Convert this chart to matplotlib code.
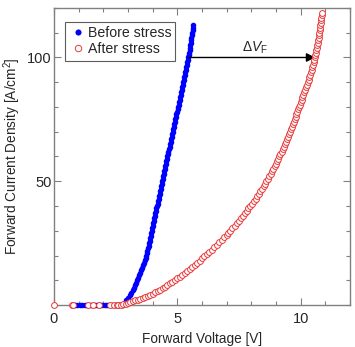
import matplotlib
matplotlib.use("Agg")
import matplotlib.pyplot as plt

plt.rcParams['font.family'] = ['Liberation Sans', 'DejaVu Sans']
plt.rcParams['mathtext.fontset'] = 'custom'
plt.rcParams['mathtext.rm'] = 'Liberation Sans'
plt.rcParams['mathtext.it'] = 'Liberation Sans:italic'

# Before stress: points sitting on the axis, then the rising branch
before_v = [0.85, 0.95, 1.05, 1.15, 1.25, 1.35, 1.45, 1.55, 1.65, 1.75,
            1.85, 1.95, 2.05, 2.15, 2.25, 2.35, 2.45, 2.55, 2.65, 2.75,
            2.80, 2.87, 2.94, 3.01, 3.07, 3.13, 3.19, 3.24, 3.29, 3.33,
            3.38, 3.42, 3.46, 3.50, 3.54, 3.58, 3.61, 3.65, 3.68, 3.72,
            3.75, 3.77, 3.79, 3.81, 3.84, 3.86, 3.88, 3.90, 3.92, 3.94,
            3.96, 3.98, 4.01, 4.03, 4.05, 4.07, 4.09, 4.11, 4.13, 4.15,
            4.18, 4.20, 4.22, 4.24, 4.26, 4.28, 4.30, 4.32, 4.35, 4.37,
            4.39, 4.41, 4.43, 4.45, 4.47, 4.49, 4.52, 4.54, 4.56, 4.58,
            4.60, 4.62, 4.64, 4.66, 4.69, 4.71, 4.73, 4.75, 4.77, 4.79,
            4.81, 4.84, 4.86, 4.88, 4.90, 4.92, 4.94, 4.96, 4.98, 5.01,
            5.03, 5.05, 5.07, 5.09, 5.11, 5.13, 5.15, 5.18, 5.20, 5.22,
            5.24, 5.26, 5.28, 5.30, 5.32, 5.35, 5.37, 5.39, 5.41, 5.43,
            5.45, 5.47, 5.48, 5.50, 5.51, 5.53, 5.54, 5.56, 5.57, 5.59,
            5.60, 5.62, 5.63, 5.65]
before_j = [0, 0, 0, 0, 0, 0, 0, 0, 0, 0,
            0, 0, 0, 0, 0, 0, 0, 0, 0, 0,
            0, 1, 2, 3, 4, 5, 6, 7, 8, 9,
            10, 11, 12, 13, 14, 15, 16, 17, 18, 19,
            20, 21, 22, 23, 24, 25, 26, 27, 28, 29,
            30, 31, 32, 33, 34, 35, 36, 37, 38, 39,
            40, 41, 42, 43, 44, 45, 46, 47, 48, 49,
            50, 51, 52, 53, 54, 55, 56, 57, 58, 59,
            60, 61, 62, 63, 64, 65, 66, 67, 68, 69,
            70, 71, 72, 73, 74, 75, 76, 77, 78, 79,
            80, 81, 82, 83, 84, 85, 86, 87, 88, 89,
            90, 91, 92, 93, 94, 95, 96, 97, 98, 99,
            100, 101, 102, 103, 104, 105, 106, 107, 108, 109,
            110, 111, 112, 113]

# After stress
after_v = [0.00, 0.72, 0.77, 1.36, 1.58, 1.81, 2.26, 2.42, 2.54,
           2.6, 2.7, 2.8, 2.9, 3.0, 3.1, 3.2, 3.3, 3.4, 3.5,
           3.6, 3.7, 3.8, 3.9, 4.0, 4.1, 4.2, 4.3, 4.4, 4.5,
           4.6, 4.7, 4.8, 4.9, 5.0, 5.1, 5.2, 5.3, 5.4, 5.5,
           5.6, 5.7, 5.8, 5.9, 6.0, 6.1, 6.2, 6.3, 6.4, 6.5,
           6.6, 6.7, 6.8, 6.9, 7.0,
           7.05, 7.14, 7.23, 7.32, 7.41, 7.50, 7.58, 7.65, 7.73, 7.81,
           7.88, 7.96, 8.03, 8.10, 8.17, 8.23, 8.30, 8.37, 8.43, 8.50,
           8.56, 8.61, 8.67, 8.72, 8.78, 8.83, 8.89, 8.94, 9.00, 9.05,
           9.09, 9.14, 9.18, 9.23, 9.27, 9.32, 9.36, 9.41, 9.45, 9.50,
           9.54, 9.57, 9.61, 9.64, 9.68, 9.71, 9.75, 9.79, 9.82, 9.86,
           9.89, 9.93, 9.96, 10.00, 10.04, 10.07, 10.11, 10.14, 10.18, 10.21,
           10.25, 10.28, 10.32, 10.35, 10.38, 10.41, 10.44, 10.47, 10.49, 10.52,
           10.55, 10.58, 10.60, 10.62, 10.64, 10.66, 10.68, 10.69, 10.71, 10.73,
           10.74, 10.76, 10.77, 10.78, 10.80, 10.81, 10.82, 10.83, 10.85, 10.86]
after_j = [0, 0, 0, 0, 0, 0, 0, 0, 0,
           0, 0.2, 0.4, 0.6, 0.9, 1.2, 1.5, 1.9, 2.2, 2.6,
           3.0, 3.4, 3.8, 4.2, 4.6, 5.1, 5.6, 6.1, 6.7, 7.3,
           8.0, 8.7, 9.4, 10.1, 10.8, 11.5, 12.3, 13.0, 13.8, 14.6,
           15.4, 16.2, 17.1, 17.9, 18.8, 19.7, 20.6, 21.5, 22.4, 23.4,
           24.4, 25.4, 26.4, 27.4, 28.4,
           29, 30, 31, 32, 33, 34, 35, 36, 37, 38,
           39, 40, 41, 42, 43, 44, 45, 46, 47, 48,
           49, 50, 51, 52, 53, 54, 55, 56, 57, 58,
           59, 60, 61, 62, 63, 64, 65, 66, 67, 68,
           69, 70, 71, 72, 73, 74, 75, 76, 77, 78,
           79, 80, 81, 82, 83, 84, 85, 86, 87, 88,
           89, 90, 91, 92, 93, 94, 95, 96, 97, 98,
           99, 100, 101, 102, 103, 104, 105, 106, 107, 108,
           109, 110, 111, 112, 113, 114, 115, 116, 117, 118]

# Delta V_F arrow at 100 A/cm^2
arrow_j = 100
arrow_from_v = 5.48
arrow_to_v = 10.59

gray = '#808080'
txt = '#262626'

fig = plt.figure(figsize=(3.55, 3.47), dpi=100)
ax = fig.add_axes([0.152, 0.121, 0.834, 0.856])

ax.plot(before_v, before_j, 'o', color='#0000ff', markersize=4.0,
        markeredgewidth=0, label='Before stress', clip_on=False, zorder=3)
ax.plot(after_v, after_j, 'o', color='#e8393a', markerfacecolor='white',
        markersize=4.2, markeredgewidth=0.7, label='After stress',
        clip_on=False, zorder=4)

ax.annotate('', xy=(arrow_to_v, arrow_j), xytext=(arrow_from_v, arrow_j),
            arrowprops=dict(arrowstyle='-|>', color='black', lw=1.0,
                            mutation_scale=13, shrinkA=0, shrinkB=0))
ax.text(8.15, 104, r'$\mathit{\Delta V}_{\mathrm{F}}$', fontsize=10,
        color=txt, ha='center', va='center')

ax.set_xlim(0, 12)
ax.set_ylim(0, 120)
ax.set_xticks([0, 5, 10])
ax.set_xticks(range(0, 13), minor=True)
ax.set_yticks([50, 100])
ax.set_yticks(range(0, 121, 10), minor=True)
ax.tick_params(which='both', direction='in', top=True, right=True,
               color=gray, labelsize=10.5, labelcolor=txt, width=0.8)
ax.tick_params(which='major', length=5)
ax.tick_params(which='minor', length=3)
ax.tick_params(axis='x', which='major', pad=5)
ax.tick_params(axis='y', which='major', pad=1.5)
for s in ax.spines.values():
    s.set_color(gray)
    s.set_linewidth(1.0)

ax.set_xlabel('Forward Voltage [V]', fontsize=9.8, color=txt, labelpad=4)
ax.set_ylabel('Forward Current Density [A/cm$^2$]', fontsize=9.8,
              color=txt, labelpad=3)

leg = ax.legend(loc='upper left', bbox_to_anchor=(0.037, 0.953), fontsize=10.2,
                frameon=True, fancybox=False, edgecolor='#333333',
                borderpad=0.3, handletextpad=0.1, handlelength=1.2,
                labelspacing=0.15, borderaxespad=0.0, markerscale=1.1)
leg.get_frame().set_linewidth(0.8)
for t in leg.get_texts():
    t.set_color(txt)

fig.savefig('out.png', dpi=100)
